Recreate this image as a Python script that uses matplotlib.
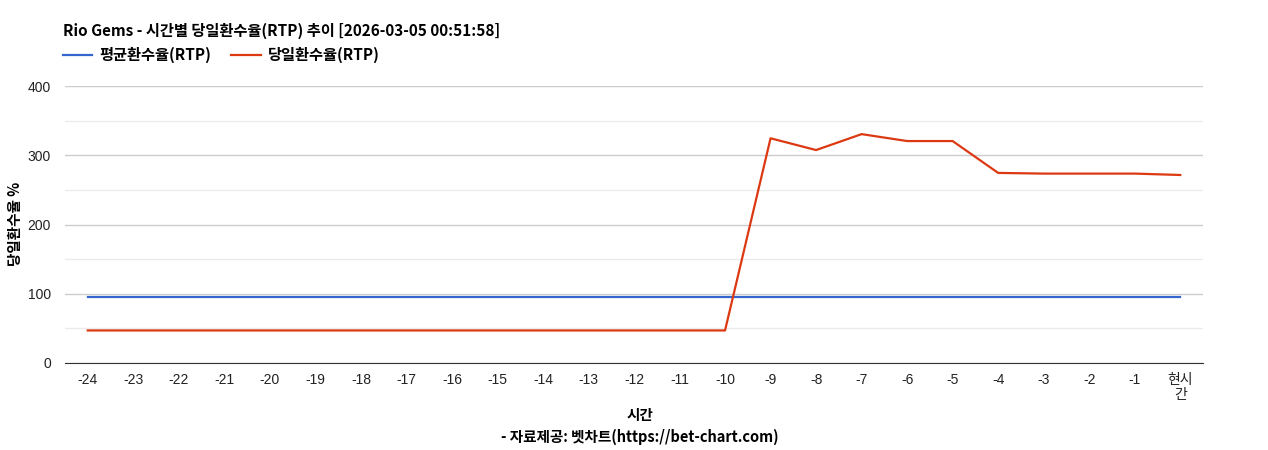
import numpy as np
import matplotlib
matplotlib.use('Agg')
import matplotlib.pyplot as plt
from matplotlib.lines import Line2D

plt.rcParams['font.family'] = ['Liberation Sans', 'Noto Sans CJK KR', 'DejaVu Sans']

hours = ['-24', '-23', '-22', '-21', '-20', '-19', '-18', '-17', '-16', '-15', '-14', '-13',
         '-12', '-11', '-10', '-9', '-8', '-7', '-6', '-5', '-4', '-3', '-2', '-1', '현시\n간']
avg_rtp = [95.5] * 25
today_rtp = [47, 47, 47, 47, 47, 47, 47, 47, 47, 47, 47, 47, 47, 47, 47,
             324.5, 307.5, 330.5, 320.5, 320.5, 274.5, 273.5, 273.5, 273.5, 271.5]

title = 'Rio Gems - 시간별 당일환수율(RTP) 추이 [2026-03-05 00:51:58]'
avg_name = '평균환수율(RTP)'
today_name = '당일환수율(RTP)'

blue = '#3366cc'
red = '#dc3912'
kr = ['Noto Sans CJK KR', 'DejaVu Sans']

fig = plt.figure(figsize=(12.68, 4.5), dpi=100)
ax = fig.add_axes([65 / 1268, 1 - 363 / 450, (1203 - 65) / 1268, (363 - 86) / 450])

x = np.arange(len(hours))
ax.plot(x, avg_rtp, color=blue, lw=1.6, zorder=3)
ax.plot(x, today_rtp, color=red, lw=1.6, zorder=4)

ax.set_xlim(-0.5, len(hours) - 0.5)
ax.set_ylim(0, 400)
ax.set_yticks([0, 100, 200, 300, 400])
ax.set_yticks([50, 150, 250, 350], minor=True)
ax.grid(axis='y', which='major', color='#cccccc', lw=1, zorder=0)
ax.grid(axis='y', which='minor', color='#ebebeb', lw=1, zorder=0)
ax.set_xticks(x)
ax.set_xticklabels(hours, linespacing=1.1)
ax.tick_params(axis='both', which='both', length=0, labelsize=10, colors='#222222')
ax.tick_params(axis='x', pad=7)
ax.tick_params(axis='y', pad=10)
for side in ['top', 'right', 'left']:
    ax.spines[side].set_visible(False)
ax.spines['bottom'].set_color('#333333')
ax.spines['bottom'].set_zorder(5)

fig.text(63 / 1268, 1 - 31 / 450, title, family=kr, fontsize=11, fontweight='bold',
         va='center', ha='left', color='#000000')

# legend
handles = [Line2D([], [], color=blue, lw=1.6), Line2D([], [], color=red, lw=1.6)]
fig.legend(handles, [avg_name, today_name], loc='center left',
           bbox_to_anchor=(58 / 1268, 1 - 55 / 450), ncol=2, frameon=False,
           prop={'family': kr, 'weight': 'bold', 'size': 11},
           handlelength=1.95, handletextpad=0.45, columnspacing=1.3,
           borderaxespad=0, borderpad=0.3)

fig.text(15 / 1268, 1 - 224 / 450, '당일환수율 %', family=kr, fontsize=10.5, fontweight='bold',
         rotation=90, va='center', ha='center')
fig.text(640 / 1268, 1 - 415 / 450, '시간', family=kr, fontsize=10.5, fontweight='bold',
         va='center', ha='center')
fig.text(640 / 1268, 1 - 437 / 450, '- 자료제공: 벳차트(https://bet-chart.com)', family=kr,
         fontsize=10.5, fontweight='bold', va='center', ha='center')

fig.savefig('out.png', dpi=100)
